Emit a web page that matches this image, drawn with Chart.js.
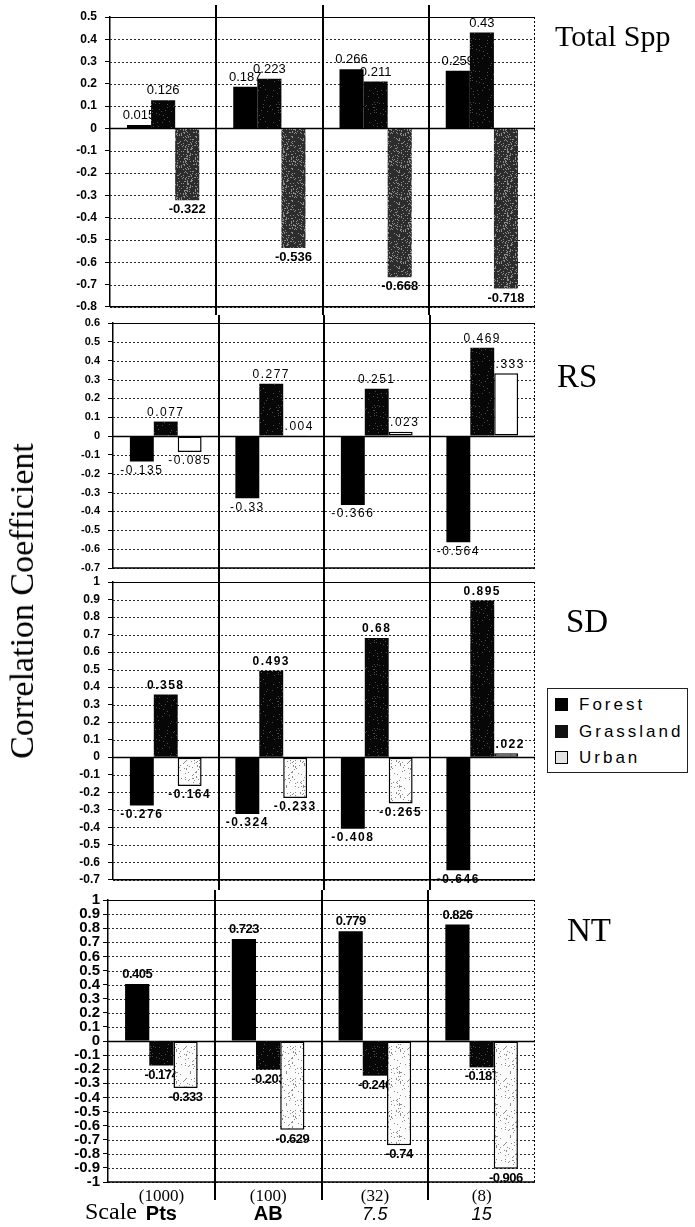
<!DOCTYPE html>
<html><head><meta charset="utf-8">
<script src="https://cdn.jsdelivr.net/npm/chart.js@4.4.1/dist/chart.umd.min.js"></script>
<style>
html,body{margin:0;padding:0;background:#fff;}
#wrap{position:relative;width:695px;height:1227px;overflow:hidden;background:#fff;}
#wrap canvas{position:absolute;left:0;}
.t{position:absolute;white-space:nowrap;color:#000;line-height:1;}
.serif{font-family:"Liberation Serif","Times New Roman",serif;}
.sans{font-family:"Liberation Sans",Arial,sans-serif;}
#legend{position:absolute;left:547px;top:688px;width:141px;height:85px;border:1px solid #222;background:#fff;box-sizing:border-box;}
.li{position:absolute;left:7px;height:20px;font-family:"Liberation Sans",Arial,sans-serif;font-size:17px;letter-spacing:3px;line-height:20px;}
.sw{position:absolute;left:0;top:3px;width:13px;height:13px;box-sizing:border-box;}
.li span{position:absolute;left:24px;top:0;}
</style></head><body>
<div id="wrap">
  <canvas id="c1"></canvas>
  <canvas id="c2"></canvas>
  <canvas id="c3"></canvas>
  <canvas id="c4"></canvas>
  <div class="t serif" style="left:555px;top:21px;font-size:30px;">Total Spp</div>
  <div class="t serif" style="left:557px;top:360px;font-size:33px;">RS</div>
  <div class="t serif" style="left:566px;top:605px;font-size:33px;">SD</div>
  <div class="t serif" style="left:567px;top:914px;font-size:33px;">NT</div>
  <div class="t serif" style="left:22px;top:601px;font-size:34px;transform:translate(-50%,-50%) rotate(-90deg);">Correlation Coefficient</div>
  <div class="t serif" style="left:85px;top:1199px;font-size:24px;">Scale</div>
  <div id="legend">
    <div class="li" style="top:6px;"><div class="sw" style="background:#000;"></div><span>Forest</span></div>
    <div class="li" style="top:33px;"><div class="sw" style="background:#111;"></div><span>Grassland</span></div>
    <div class="li" style="top:59px;"><div class="sw" style="background:#e4e4e4;border:1px solid #000;"></div><span>Urban</span></div>
  </div>
</div>
<script>
// ---------- data ----------
const categories = ['Pts', 'AB', '7.5', '15'];
const scaleSizes = ['(1000)', '(100)', '(32)', '(8)'];
const seriesNames = ['Forest', 'Grassland', 'Urban'];

const totalForest    = [0.015, 0.187, 0.266, 0.259];
const totalGrassland = [0.126, 0.223, 0.211, 0.43];
const totalUrban     = [-0.322, -0.536, -0.668, -0.718];

const rsForest    = [-0.135, -0.33, -0.366, -0.564];
const rsGrassland = [0.077, 0.277, 0.251, 0.469];
const rsUrban     = [-0.085, 0.004, 0.023, 0.333];

const sdForest    = [-0.276, -0.324, -0.408, -0.646];
const sdGrassland = [0.358, 0.493, 0.68, 0.895];
const sdUrban     = [-0.164, -0.233, -0.265, 0.022];

const ntForest    = [0.405, 0.723, 0.779, 0.826];
const ntGrassland = [-0.174, -0.203, -0.246, -0.187];
const ntUrban     = [-0.333, -0.629, -0.74, -0.906];

const totalRange = [-0.8, 0.5];
const rsRange    = [-0.7, 0.6];
const sdRange    = [-0.7, 1];
const ntRange    = [-1, 1];

// ---------- styling helpers ----------
function speckle(base, dot, pct, seed) {
  const c = document.createElement('canvas');
  c.width = c.height = 32;
  const g = c.getContext('2d');
  g.fillStyle = base; g.fillRect(0, 0, 32, 32);
  g.fillStyle = dot;
  for (let y = 0; y < 32; y++) for (let x = 0; x < 32; x++) {
    let h = (Math.imul(x + 1, 374761393) ^ Math.imul(y + 7, 668265263) ^ Math.imul(seed, 974711)) | 0;
    h = Math.imul(h ^ (h >>> 15), 2246822519);
    h = Math.imul(h ^ (h >>> 13), 3266489917);
    h ^= h >>> 16;
    if (((h >>> 0) % 1000) < pct * 10) g.fillRect(x, y, 1, 1);
  }
  return g.createPattern(c, 'repeat');
}
const FOREST = '#000';
const GRASS = speckle('#070707', '#4a4a4a', 5, 3);
const URBAN_DARK = speckle('#2c2c2c', '#8c8c8c', 18, 7);
const URBAN_LIGHT = speckle('#fbfbfb', '#8a8a8a', 9, 11);

const fmt = v => (Math.round(v * 10) / 10).toString();
const AREA_RIGHT = 535;
const AXW = 50;

function panel(cfg) {
  const cv = document.getElementById(cfg.id);
  cv.width = 695; cv.height = cfg.height; cv.style.top = cfg.top + 'px';
  const framePlugin = {
    id: 'frame' + cfg.id,
    beforeDatasetsDraw(chart) {
      const {ctx, chartArea: a, scales: {y}} = chart;
      ctx.save();
      y.ticks.forEach(t => {
        const py = Math.round(y.getPixelForValue(t.value)) + 0.5;
        ctx.beginPath();
        if (Math.abs(t.value) < 1e-9) { ctx.setLineDash([]); ctx.lineWidth = 1.3; ctx.strokeStyle = '#000'; }
        else { ctx.setLineDash([2, 2]); ctx.lineWidth = 1; ctx.strokeStyle = '#2a2a2a'; }
        ctx.moveTo(a.left, py); ctx.lineTo(a.right, py); ctx.stroke();
      });
      ctx.setLineDash([]);
      // value labels (drawn under the bars, as in the original)
      ctx.fillStyle = '#000';
      ctx.textAlign = 'center';
      chart.data.datasets.forEach((ds, di) => {
        const meta = chart.getDatasetMeta(di);
        meta.data.forEach((el, j) => {
          const v = ds.data[j];
          const neg = v < 0;
          ctx.font = neg ? cfg.labelFontNeg : cfg.labelFont;
          ctx.letterSpacing = cfg.labelSpacing || '0px';
          if (neg) { ctx.textBaseline = 'top'; ctx.fillText(String(v), el.x, el.y + cfg.labelGap); }
          else { ctx.textBaseline = 'bottom'; ctx.fillText(String(v), el.x, el.y - cfg.labelGap); }
        });
      });
      ctx.letterSpacing = '0px';
      ctx.restore();
    },
    afterDatasetsDraw(chart) {
      const {ctx, chartArea: a, scales: {x}} = chart;
      ctx.save();
      ctx.strokeStyle = '#000';
      ctx.lineWidth = 1.2;
      ctx.beginPath(); ctx.moveTo(a.left, a.top + 0.5); ctx.lineTo(a.right, a.top + 0.5); ctx.stroke();
      ctx.lineWidth = 1.5;
      ctx.beginPath(); ctx.moveTo(a.left, a.bottom); ctx.lineTo(a.right, a.bottom); ctx.stroke();
      ctx.lineWidth = 1;
      ctx.setLineDash([2, 2]);
      ctx.beginPath(); ctx.moveTo(a.right - 0.5, a.top); ctx.lineTo(a.right - 0.5, a.bottom); ctx.stroke();
      ctx.setLineDash([]);
      ctx.lineWidth = 2;
      for (let i = 0; i < categories.length - 1; i++) {
        const bx = Math.round((x.getPixelForValue(i) + x.getPixelForValue(i + 1)) / 2);
        ctx.beginPath();
        ctx.moveTo(bx, cfg.divTop - cfg.top);
        ctx.lineTo(bx, cfg.divBottom - cfg.top);
        ctx.stroke();
      }
      if (cfg.bottomLabels) {
        ctx.fillStyle = '#000';
        ctx.textAlign = 'center';
        ctx.textBaseline = 'alphabetic';
        for (let i = 0; i < categories.length; i++) {
          const px = x.getPixelForValue(i);
          ctx.font = '17px "Liberation Serif", serif';
          ctx.fillText(scaleSizes[i], px, 1201 - cfg.top);
          ctx.font = (i < 2 ? 'bold 20px "Liberation Sans Narrow", "Liberation Sans", sans-serif' : 'italic 18px "Liberation Sans", sans-serif');
          ctx.fillText(categories[i], px, 1220 - cfg.top);
        }
      }
      ctx.restore();
    }
  };
  return new Chart(cv, {
    type: 'bar',
    data: {
      labels: categories,
      datasets: cfg.series.map((vals, i) => ({
        label: seriesNames[i],
        data: vals,
        backgroundColor: cfg.fills[i],
        borderColor: '#000',
        borderWidth: cfg.borders[i],
        borderSkipped: false
      }))
    },
    options: {
      responsive: false,
      animation: false,
      events: [],
      layout: {padding: {left: cfg.left - AXW, right: 695 - AREA_RIGHT, top: cfg.areaTop - cfg.top, bottom: cfg.top + cfg.height - cfg.areaBottom}},
      plugins: {legend: {display: false}, tooltip: {enabled: false}},
      datasets: {bar: {categoryPercentage: 0.68, barPercentage: 1}},
      scales: {
        x: {display: false, offset: true},
        y: {
          min: cfg.range[0], max: cfg.range[1],
          afterFit: s => { s.width = AXW; },
          ticks: {stepSize: 0.1, maxTicksLimit: 100, autoSkip: false, font: cfg.tickFont, color: '#000', padding: cfg.tickPad, callback: v => fmt(v)},
          grid: {drawOnChartArea: false, drawTicks: true, tickLength: 5, color: '#000'},
          border: {display: true, color: '#000', width: 1.5}
        }
      }
    },
    plugins: [framePlugin]
  });
}

panel({
  id: 'c1', top: 0, height: 322, areaTop: 17, areaBottom: 307, left: 110,
  range: totalRange, series: [totalForest, totalGrassland, totalUrban],
  fills: [FOREST, GRASS, URBAN_DARK], borders: [0, 0, 0],
  tickFont: {family: '"Liberation Sans", Arial, sans-serif', size: 12, weight: 'bold'}, tickPad: 8,
  labelFont: '13px "Liberation Sans", Arial, sans-serif', labelFontNeg: 'bold 13px "Liberation Sans", Arial, sans-serif', labelGap: 3,
  divTop: 5, divBottom: 315
});
panel({
  id: 'c2', top: 303, height: 280, areaTop: 323, areaBottom: 568, left: 113,
  range: rsRange, series: [rsForest, rsGrassland, rsUrban],
  fills: [FOREST, GRASS, '#fff'], borders: [0, 0, 1.5],
  tickFont: {family: '"Liberation Sans", Arial, sans-serif', size: 11, weight: 'bold'}, tickPad: 8,
  labelFont: '12px "Liberation Sans", Arial, sans-serif', labelFontNeg: '12px "Liberation Sans", Arial, sans-serif', labelSpacing: '1.5px', labelGap: 3,
  divTop: 315, divBottom: 575
});
panel({
  id: 'c3', top: 562, height: 333, areaTop: 582, areaBottom: 880, left: 113,
  range: sdRange, series: [sdForest, sdGrassland, sdUrban],
  fills: [FOREST, GRASS, URBAN_LIGHT], borders: [0, 0, 1.5],
  tickFont: {family: '"Liberation Sans", Arial, sans-serif', size: 12, weight: 'bold'}, tickPad: 8,
  labelFont: 'bold 12px "Liberation Sans", Arial, sans-serif', labelFontNeg: 'bold 12px "Liberation Sans", Arial, sans-serif', labelSpacing: '1.5px', labelGap: 3,
  divTop: 575, divBottom: 890
});
panel({
  id: 'c4', top: 880, height: 347, areaTop: 900, areaBottom: 1182, left: 108,
  range: ntRange, series: [ntForest, ntGrassland, ntUrban],
  fills: [FOREST, GRASS, URBAN_LIGHT], borders: [0, 0, 1.5],
  tickFont: {family: '"Liberation Sans Narrow", "Liberation Sans", Arial, sans-serif', size: 15, weight: 'bold'}, tickPad: 3,
  labelFont: 'bold 13px "Liberation Sans Narrow", "Liberation Sans", Arial, sans-serif', labelFontNeg: 'bold 13px "Liberation Sans Narrow", "Liberation Sans", Arial, sans-serif', labelSpacing: '-0.5px', labelGap: 3,
  divTop: 890, divBottom: 1200, bottomLabels: true
});
</script>
</body></html>
